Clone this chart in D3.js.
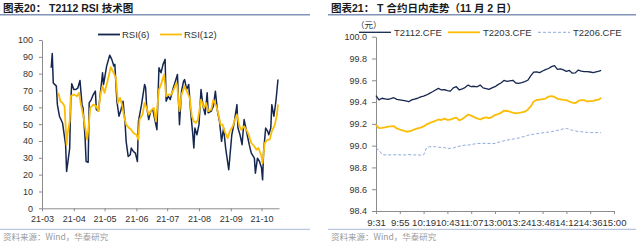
<!DOCTYPE html>
<html>
<head>
<meta charset="utf-8">
<script src="https://cdn.jsdelivr.net/npm/d3@7"></script>
<style>
body { margin: 0; background: #fff; }
svg { display: block; font-family: "Liberation Sans", Arial, "Noto Sans CJK SC", sans-serif; }
</style>
</head>
<body>
<script>
// ---- left chart: T2112 RSI ----
var rsi6Days = ["03-10","03-11","03-12","03-15","03-16","03-18","03-21","03-24","03-25","03-28","03-29","03-30",
  "04-01","04-03","04-05","04-07","04-09","04-10","04-12","04-13","04-15","04-16","04-18","04-20","04-22","04-23","04-25","04-28","04-29","04-30",
  "05-03","05-06","05-08","05-10","05-11","05-13","05-15","05-17","05-19","05-21","05-22","05-24","05-26","05-27","05-29","05-31",
  "06-02","06-03","06-06","06-09","06-10","06-11","06-13","06-15","06-17","06-21","06-23","06-25","06-27","06-29","06-30",
  "07-02","07-04","07-07","07-09","07-11","07-13","07-15","07-17","07-18","07-20","07-22","07-24","07-26","07-27","07-28","07-30",
  "08-01","08-03","08-05","08-07","08-09","08-10","08-13","08-15","08-17","08-19","08-21","08-23","08-25","08-27","08-30",
  "09-02","09-04","09-07","09-08","09-10","09-12","09-14","09-17","09-19","09-21","09-24","09-25","09-27","09-29",
  "10-01","10-02","10-03","10-05","10-07","10-08","10-10","10-11","10-13","10-15","10-17"];
var rsi6 = [83.5,92,74.5,72.6,61.6,54.7,50.7,37.8,21.9,35.8,63.6,74,
  70.6,70.6,71.6,76,61.6,59.6,41.7,27.8,27.4,62.6,64.6,67.6,69.6,58.6,57.7,74.6,80.5,73.6,
  84.5,91,88.5,84.5,85.5,63.6,54.7,58.6,63.6,50.7,39.8,30.8,31.8,35.8,33.8,32.8,
  27.8,51.7,61.6,73.6,71.6,60.6,52.7,57.7,58.6,46.7,83.5,80.5,85.5,88.5,63.6,
  66.6,64.6,71.6,75.5,79.5,49.7,69.6,75.5,76.5,70.6,73.6,56.7,43.7,35.8,47.7,43.7,
  49.7,70.6,60.6,55.7,68.6,56.7,57.7,60.6,69.6,57.7,51.7,39.8,47.7,35.8,22.9,
  43.7,49.7,61.6,47.7,43.7,37.8,52.7,43.7,37.8,32.8,29.8,20.9,29.8,27.8,
  23.9,16.9,33.8,47.7,45.7,43.7,47.7,61.6,54.7,63.6,76.5];

var rsi12Days = ["03-17","03-19","03-21","03-23","03-25","03-26","03-28","03-29",
  "04-01","04-04","04-06","04-08","04-10","04-14","04-15","04-17","04-20","04-23","04-25","04-27","04-29",
  "05-01","05-05","05-07","05-09","05-12","05-14","05-16","05-18","05-20","05-22","05-25","05-27","05-29",
  "06-01","06-03","06-04","06-07","06-09","06-11","06-13","06-16","06-18","06-20","06-23","06-25","06-28","06-30",
  "07-02","07-05","07-08","07-10","07-11","07-13","07-15","07-18","07-20","07-23","07-25","07-27","07-29","07-31",
  "08-03","08-06","08-08","08-10","08-13","08-15","08-18","08-20","08-22","08-24","08-26","08-29","08-31",
  "09-03","09-05","09-07","09-09","09-11","09-14","09-17","09-19","09-21","09-24","09-26","09-28",
  "10-01","10-02","10-04","10-07","10-09","10-11","10-14","10-16","10-17"];
var rsi12 = [68.6,63.6,62.6,60.6,37.8,44.7,51.7,66.6,
  67.6,66.6,68.6,61.6,55.7,40.8,45.7,59.6,61.6,60.6,57.7,67.6,72.6,
  68.6,78.5,83.9,81.5,77.5,62.6,65.6,61.6,54.7,49.7,47.7,46.7,44.7,
  43.7,40.8,52.7,55.7,62.6,59.6,55.7,58.6,59.6,51.7,70.6,73.6,79.5,66.6,
  67.6,67.6,71.6,74.6,71.6,57.7,67.6,72.6,69.6,65.6,54.7,51.7,50.7,52.7,
  64.6,59.6,62.6,57.7,58.6,64.6,60.6,55.7,49.7,49.7,45.7,41.7,45.7,
  48.7,52.7,55.7,49.7,46.7,48.7,45.7,42.7,38.8,36.8,34.8,35.8,
  30.8,26.8,38.8,40.8,40.8,45.7,49.7,55.7,61.6];

var rsiTicks = [0,10,20,30,40,50,60,70,80,90,100];

// ---- right chart: intraday, minute index from 9:31 ----
var timeLabels = ["9:31","9:55","10:19","10:43","11:07","13:00","13:24","13:48","14:12","14:36","15:00"];
var minuteIdx = [0,3,6,9,12,15,18,21,24,27,30,33,36,39,42,45,48,51,54,57,60,63,66,69,72,75,78,81,84,87,90,93,96,99,
  102,105,108,111,114,117,120,123,126,129,132,135,138,141,144,147,150,153,156,159,162,165,168,171,174,177,180,183,
  186,189,192,195,198,201,204,207,210,213,216,219,222,225,227];
var t2112 = [99.46,99.42,99.435,99.43,99.425,99.432,99.44,99.425,99.42,99.415,99.41,99.403,99.42,99.428,99.435,99.447,
  99.455,99.465,99.48,99.495,99.511,99.526,99.511,99.515,99.505,99.50,99.53,99.541,99.511,99.52,99.535,99.556,99.541,
  99.545,99.54,99.556,99.53,99.524,99.517,99.53,99.541,99.56,99.575,99.598,99.59,99.595,99.60,99.575,99.572,99.578,
  99.587,99.60,99.64,99.675,99.678,99.67,99.685,99.697,99.708,99.725,99.735,99.70,99.705,99.695,99.682,99.69,99.665,
  99.668,99.694,99.685,99.679,99.68,99.676,99.67,99.678,99.684,99.69];
var t2203 = [99.19,99.16,99.163,99.168,99.174,99.177,99.178,99.158,99.148,99.14,99.13,99.13,99.138,99.15,99.158,99.166,
  99.176,99.195,99.207,99.218,99.228,99.24,99.235,99.248,99.237,99.238,99.25,99.258,99.232,99.245,99.265,99.285,99.275,
  99.262,99.25,99.24,99.252,99.26,99.252,99.262,99.281,99.29,99.30,99.322,99.318,99.312,99.302,99.296,99.30,99.305,
  99.312,99.33,99.36,99.405,99.419,99.423,99.427,99.432,99.45,99.455,99.447,99.43,99.425,99.42,99.418,99.405,99.395,
  99.39,99.41,99.418,99.418,99.405,99.408,99.41,99.418,99.425,99.44];
var t2206 = [98.975,98.96,98.92,98.915,98.915,98.915,98.915,98.918,98.915,98.915,98.915,98.918,98.915,98.915,98.915,98.912,
  98.915,98.98,98.99,98.99,98.99,98.985,98.985,98.982,98.975,98.975,98.978,98.99,98.995,99.0,99.005,99.005,99.01,
  99.015,99.02,99.02,99.022,99.02,99.02,99.018,99.02,99.03,99.035,99.045,99.05,99.055,99.06,99.065,99.07,99.078,
  99.085,99.095,99.10,99.105,99.11,99.113,99.118,99.12,99.125,99.128,99.135,99.14,99.145,99.155,99.158,99.15,99.14,
  99.135,99.13,99.128,99.125,99.122,99.12,99.12,99.12,99.12,99.12];
var priceTicks = [98.4,98.6,98.8,99.0,99.2,99.4,99.6,99.8,100.0];

var navy = "#15264f", gold = "#fbbd05", lightBlue = "#8ea9db";

const svg = d3.select("body").append("svg").attr("width", 640).attr("height", 243);

// titles, rules, sources
function header(x0, x1, title) {
  svg.append("text").attr("x", x0 + 3).attr("y", 11.5)
    .attr("font-size", "10.5px").attr("font-weight", "bold").attr("fill", "#1a1a1a")
    .text(title);
  svg.append("line").attr("x1", x0).attr("x2", x1).attr("y1", 14.7).attr("y2", 14.7)
    .attr("stroke", "#8193b6").attr("stroke-width", 1.4);
  svg.append("line").attr("x1", x0).attr("x2", x1).attr("y1", 229.3).attr("y2", 229.3)
    .attr("stroke", "#a9b8d8").attr("stroke-width", 1);
  svg.append("text").attr("x", x0 + 3).attr("y", 239.5)
    .attr("font-size", "8.5px").attr("fill", "#9a9a9a")
    .style("font-family", "'Noto Sans CJK SC', sans-serif")
    .text("资料来源：Wind，华泰研究");
}
header(0, 310, "图表20： T2112 RSI 技术图");
header(328, 636, "图表21： T 合约日内走势（11 月 2 日）");

function styleAxis(g) {
  g.select(".domain").attr("stroke", "#8c8c8c");
  g.selectAll(".tick line").attr("stroke", "#8c8c8c");
  g.selectAll(".tick text").attr("fill", "#333").attr("font-size", "9px")
    .style("font-family", "'Liberation Sans', Arial, sans-serif");
}

// ---- left chart ----
var parseDay = d3.timeParse("%Y-%m-%d");
var x1 = d3.scaleTime()
  .domain([parseDay("2021-03-01"), parseDay("2021-10-18")])
  .range([42, 279]);
var y1 = d3.scaleLinear().domain([0, 100]).range([208.3, 40]);

svg.append("g").attr("transform", "translate(42,0)")
  .call(d3.axisLeft(y1).tickValues(rsiTicks).tickSize(3).tickSizeOuter(0).tickPadding(6))
  .call(styleAxis);
svg.append("g").attr("transform", "translate(0,208.3)")
  .call(d3.axisBottom(x1).ticks(d3.timeMonth.every(1)).tickFormat(d3.timeFormat("%y-%m"))
    .tickSize(3).tickSizeOuter(0).tickPadding(4))
  .call(styleAxis);

var rsiLine = d3.line().x(d => x1(d.date)).y(d => y1(d.v));
var s6 = rsi6Days.map((d, i) => ({ date: parseDay("2021-" + d), v: rsi6[i] }));
var s12 = rsi12Days.map((d, i) => ({ date: parseDay("2021-" + d), v: rsi12[i] }));
svg.append("path").datum(s6).attr("d", rsiLine)
  .attr("fill", "none").attr("stroke", navy).attr("stroke-width", 1.5).attr("stroke-linejoin", "round");
svg.append("path").datum(s12).attr("d", rsiLine)
  .attr("fill", "none").attr("stroke", gold).attr("stroke-width", 1.8).attr("stroke-linejoin", "round");

// left legend
var legL = [
  { name: "RSI(6)", color: navy, x: 98 },
  { name: "RSI(12)", color: gold, x: 160 }
];
legL.forEach(function (l) {
  svg.append("line").attr("x1", l.x).attr("x2", l.x + 22).attr("y1", 34.5).attr("y2", 34.5)
    .attr("stroke", l.color).attr("stroke-width", 1.8);
  svg.append("text").attr("x", l.x + 24).attr("y", 38).attr("font-size", "9.5px").attr("fill", "#333").text(l.name);
});

// ---- right chart ----
var x2 = d3.scaleLinear().domain([0, 240]).range([376, 614]);
var y2 = d3.scaleLinear().domain([98.4, 100]).range([211, 36.7]);

svg.append("g").attr("transform", "translate(376,0)")
  .call(d3.axisLeft(y2).tickValues(priceTicks).tickFormat(d3.format(".1f")).tickSize(4).tickSizeOuter(0).tickPadding(5))
  .call(styleAxis);
svg.append("g").attr("transform", "translate(0,211)")
  .call(d3.axisBottom(x2).tickValues(d3.range(0, 241, 24)).tickFormat((d, i) => timeLabels[i])
    .tickSize(3).tickSizeOuter(0).tickPadding(5))
  .call(styleAxis)
  .call(g => g.selectAll(".tick text").attr("font-size", "9.6px"));

var priceLine = function (vals) {
  return d3.line().x((d, i) => x2(minuteIdx[i])).y(d => y2(d))(vals);
};
svg.append("path").attr("d", priceLine(t2206))
  .attr("fill", "none").attr("stroke", lightBlue).attr("stroke-width", 1).attr("stroke-dasharray", "3,2");
svg.append("path").attr("d", priceLine(t2203))
  .attr("fill", "none").attr("stroke", gold).attr("stroke-width", 1.8).attr("stroke-linejoin", "round");
svg.append("path").attr("d", priceLine(t2112))
  .attr("fill", "none").attr("stroke", navy).attr("stroke-width", 1.3).attr("stroke-linejoin", "round");

// right legend
svg.append("text").attr("x", 356).attr("y", 28).attr("font-size", "8.5px").attr("fill", "#333")
  .style("font-family", "'Noto Sans CJK SC', sans-serif").text("（元）");
var legR = [
  { name: "T2112.CFE", color: navy, x: 359, dash: null, w: 1.3 },
  { name: "T2203.CFE", color: gold, x: 448, dash: null, w: 1.8 },
  { name: "T2206.CFE", color: lightBlue, x: 538, dash: "3,2", w: 1 }
];
legR.forEach(function (l) {
  svg.append("line").attr("x1", l.x).attr("x2", l.x + 32).attr("y1", 32.3).attr("y2", 32.3)
    .attr("stroke", l.color).attr("stroke-width", l.w).attr("stroke-dasharray", l.dash);
  svg.append("text").attr("x", l.x + 35).attr("y", 35.8).attr("font-size", "9.5px").attr("fill", "#333").text(l.name);
});
</script>
</body>
</html>
